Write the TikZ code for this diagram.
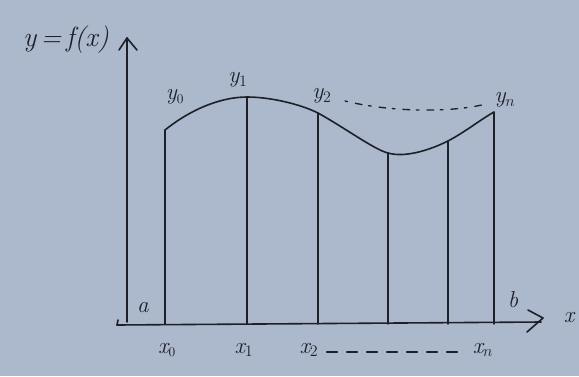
\documentclass[tikz,border=0pt]{standalone}
\usetikzlibrary{calc}
\definecolor{paper}{RGB}{172,184,204}
\definecolor{ink}{RGB}{30,32,40}
\begin{document}
\begin{tikzpicture}[x=0.75pt,y=-0.75pt,
  pen/.style={draw=ink,line width=1.2pt,line cap=round,line join=round},
  lbl/.style={text=ink,font=\LARGE\itshape,inner sep=0pt}]
\fill[paper] (0,0) rectangle (579,376);
\useasboundingbox (0,0) rectangle (579,376);
% axes
\coordinate (O) at (117,325);
\coordinate (ytop) at (127,38);
\coordinate (xend) at (543,318);
\draw[pen] (127,322) -- (ytop);
\draw[pen] (119,38+12) -- (ytop) -- (137,38+12);
\draw[pen] (O) -- (118,320);
\draw[pen] (O) -- (541,322);
\draw[pen] (528,310) -- (xend) -- (527,332);
% ordinates
\coordinate (p0) at (165,130);
\coordinate (p1) at (247,97);
\coordinate (p2) at (318,113);
\coordinate (p3) at (388,153);
\coordinate (p4) at (448,141);
\coordinate (pn) at (494,112);
\foreach \p in {p0,p1,p2,p3,p4,pn}{
  \draw[pen,line width=1pt] (\p) -- (\p |- 0,324);
}
% curve
\draw[pen] (p0) .. controls (195,106) and (225,97) .. (p1)
  .. controls (270,97) and (300,104) .. (p2)
  .. controls (345,128) and (375,150) .. (p3)
  .. controls (405,158) and (430,150) .. (p4)
  .. controls (465,132) and (480,120) .. (pn);
% dotted/dashed upper line
\draw[pen,line width=1pt,dash pattern=on 2pt off 6pt on 5pt off 5pt] (345,101) .. controls (390,112) and (450,113) .. (486,104);
% labels
\node[lbl,font=\huge\itshape] (lf) at (66,40) {y\,=\,f(x)};
\node[lbl] (ly0) at (175,97) {y$_{\scriptscriptstyle 0}$};
\node[lbl] (ly1) at (238,80) {y$_{\scriptstyle 1}$};
\node[lbl] (ly2) at (322,96) {y$_{\scriptstyle 2}$};
\node[lbl] (lyn) at (505,100) {y$_{\scriptstyle n}$};
\node[lbl] (la) at (143,308) {a};
\node[lbl] (lb) at (513,300) {b};
\node[lbl] (lx) at (569,318) {x};
\node[lbl] (lx0) at (167,350) {x$_{\scriptscriptstyle 0}$};
\node[lbl] (lx1) at (244,350) {x$_{\scriptstyle 1}$};
\node[lbl] (lx2) at (309,350) {x$_{\scriptstyle 2}$};
\node[lbl] (lxn) at (483,350) {x$_{\scriptstyle n}$};
\draw[pen,line width=1pt,dash pattern=on 8pt off 7pt] (lx2.east)+(8,2) -- ($(lxn.west)+(-6,2)$);
\end{tikzpicture}
\end{document}
